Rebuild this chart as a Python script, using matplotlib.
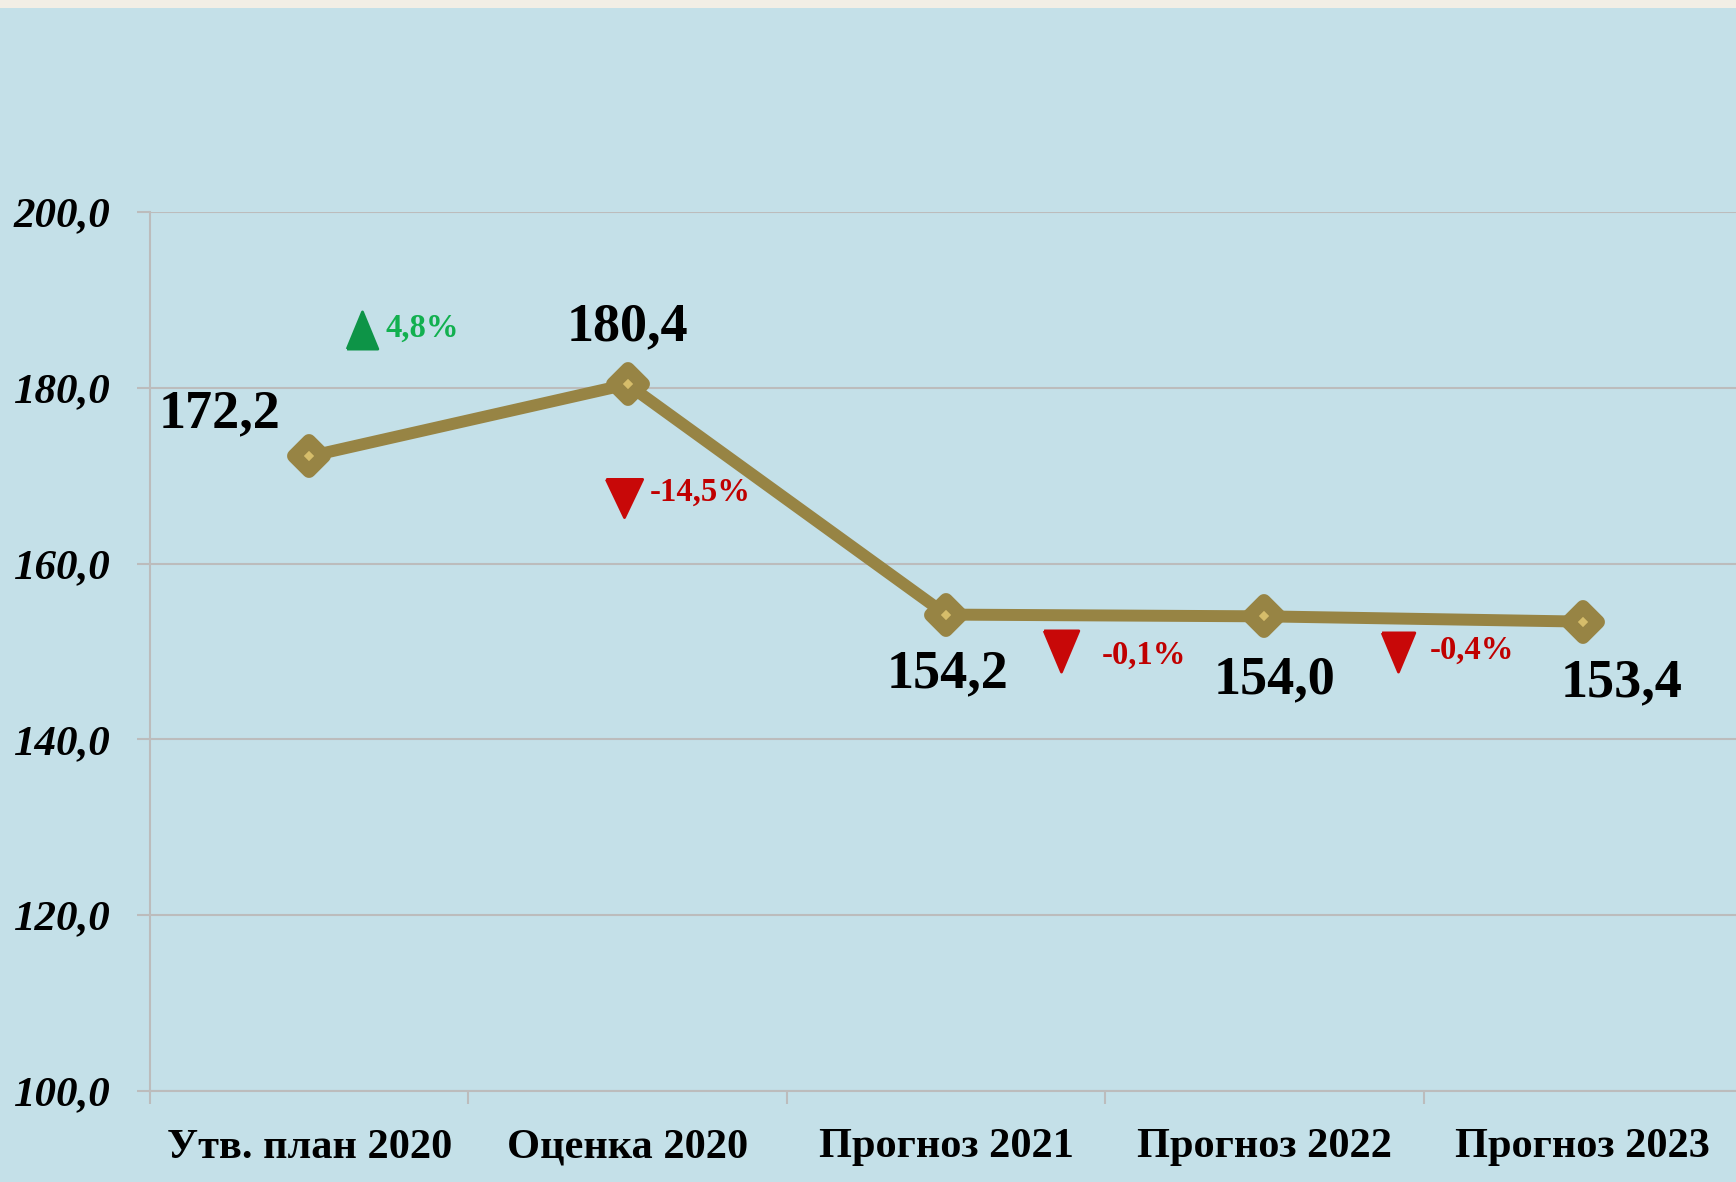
import matplotlib
matplotlib.use('Agg')
import matplotlib.pyplot as plt
from matplotlib.markers import MarkerStyle
from matplotlib.patches import Rectangle

# ---- data ----
categories = ['Утв. план 2020', 'Оценка 2020', 'Прогноз 2021', 'Прогноз 2022', 'Прогноз 2023']
values = [172.2, 180.4, 154.2, 154.0, 153.4]
value_labels = ['172,2', '180,4', '154,2', '154,0', '153,4']
changes = ['4,8%', '-14,5%', '-0,1%', '-0,4%']
change_up = [True, False, False, False]
y_ticks = [100, 120, 140, 160, 180, 200]
y_tick_labels = ['100,0', '120,0', '140,0', '160,0', '180,0', '200,0']

# ---- layout (not data) ----
label_offsets = [(-90, 42), (0, 57), (2, -60), (10, -64), (39, -62)]  # pixels
tri_pos = [(0.167, 186.6), (0.99, 167.5), (2.36, 150.1), (3.42, 149.9)]
tri_size = [(33, 40), (39, 41), (37, 44), (35, 42)]  # px width, height
text_pos = [(0.24, 186.8), (1.07, 168.1), (2.49, 149.6), (3.52, 150.1)]

BG = '#c4e0e8'
LINE = '#978444'
INNER = '#d6bd6a'
GRID = '#bcbcbc'
GREEN_TRI = '#0d9447'
GREEN_TXT = '#12b04f'
RED_TRI = '#c80808'
RED_TXT = '#c00000'
SERIF = 'Liberation Serif'

W, H = 1736, 1182
fig = plt.figure(figsize=(W / 100, H / 100), dpi=100, facecolor=BG)
fig.patches.append(Rectangle((0, 1 - 8 / H), 1, 8 / H, transform=fig.transFigure,
                             facecolor='#f2eee5', edgecolor='none', zorder=0))

left = 150 / W
bottom = (H - 1091) / H
top = (H - 212) / H
ax = fig.add_axes([left, bottom, 1592 / W, top - bottom])
ax.set_facecolor(BG)

x = list(range(len(values)))
ax.set_xlim(-0.5, 4.5)
ax.set_ylim(100, 200)

# grid
ax.set_yticks(y_ticks)
ax.set_yticklabels(y_tick_labels, fontfamily=SERIF, fontweight='bold', fontstyle='italic', fontsize=31)
ax.yaxis.grid(True, color=GRID, lw=1.5, zorder=1)
ax.set_axisbelow(True)
ax.tick_params(axis='y', direction='out', length=9.5, width=1.5, color=GRID, pad=19)

ax.set_xticks([-0.5, 0.5, 1.5, 2.5, 3.5])
ax.set_xticklabels([])
ax.set_xticks(x, minor=True)
ax.set_xticklabels(categories, minor=True, fontfamily=SERIF, fontweight='bold', fontsize=30.5)
ax.tick_params(axis='x', which='major', direction='out', length=9, width=1.5, color=GRID)
ax.tick_params(axis='x', which='minor', length=0, pad=27)

for s in ['top', 'right']:
    ax.spines[s].set_visible(False)
for s in ['left', 'bottom']:
    ax.spines[s].set_color(GRID)
    ax.spines[s].set_linewidth(1.5)

# line
ax.plot(x, values, color=LINE, lw=8.6, solid_capstyle='round', solid_joinstyle='round', zorder=3)
mk = MarkerStyle('D', joinstyle='round')
ax.plot(x, values, linestyle='none', marker=mk, ms=15, mfc=INNER, mec=LINE, mew=10, zorder=4)

# value labels
for xi, v, lab, off in zip(x, values, value_labels, label_offsets):
    ax.annotate(lab, (xi, v), xytext=off, textcoords='offset pixels', ha='center', va='center',
                fontfamily=SERIF, fontweight='bold', fontsize=39, color='black',
                annotation_clip=False, zorder=5)

# change markers
for (tx, ty), (tw, th), up, (px, py), txt in zip(tri_pos, tri_size, change_up, text_pos, changes):
    if up:
        verts = [(-tw / 2, -th / 2), (tw / 2, -th / 2), (0, th / 2), (-tw / 2, -th / 2)]
        col, tcol = GREEN_TRI, GREEN_TXT
    else:
        verts = [(-tw / 2, th / 2), (tw / 2, th / 2), (0, -th / 2), (-tw / 2, th / 2)]
        col, tcol = RED_TRI, RED_TXT
    ax.plot([tx], [ty], linestyle='none', marker=MarkerStyle(verts, joinstyle='round'),
            ms=max(tw, th) * 0.72 - 2, mfc=col, mec=col, mew=2, zorder=5, clip_on=False)
    ax.text(px, py, txt, ha='left', va='center', fontfamily=SERIF, fontweight='bold',
            fontsize=23.5, color=tcol, zorder=5)

fig.savefig('out.png', dpi=100, facecolor=BG)
